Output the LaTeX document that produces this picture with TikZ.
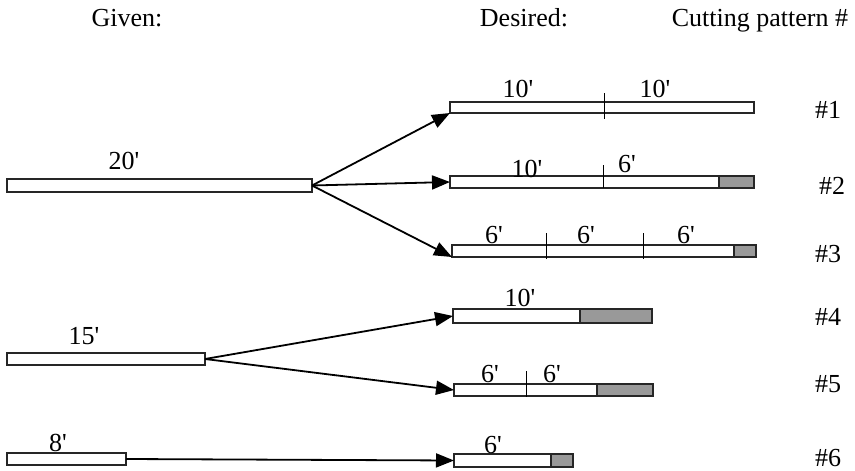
\documentclass[tikz,border=0pt]{standalone}
\usepackage{fontspec}
\setmainfont{Liberation Serif}[Ligatures=TeXOff]
\usetikzlibrary{arrows.meta}
\definecolor{waste}{RGB}{153,153,153}
\begin{document}
\begin{tikzpicture}[x=1pt,y=-1pt,
  bar/.style={draw=black!85,line width=1.2pt,fill=white,rectangle,inner sep=0pt,outer sep=0pt,anchor=north west},
  scrap/.style={draw=black!85,line width=1.2pt,fill=waste,rectangle,inner sep=0pt,outer sep=0pt,anchor=north west},
  lbl/.style={font=\fontsize{26}{29}\selectfont,anchor=base,inner sep=0pt},
  cut/.style={line width=0.9pt,black},
  flow/.style={line width=1.8pt,-{Triangle[length=18pt,width=14pt]}}]
\useasboundingbox (0,0) rectangle (855,471);
% headers
\node[lbl] (hg) at (127,27) {Given:};
\node[lbl] (hd) at (524,27) {Desired:};
\node[lbl] (hc) at (760,27) {Cutting pattern \#};
% given bars
\node[bar,minimum width=305pt,minimum height=13pt] (g20) at (7,179) {};
\node[lbl] (l20) at (124,169) {20'};
\node[bar,minimum width=198pt,minimum height=12pt] (g15) at (7,353) {};
\node[lbl] (l15) at (84,344) {15'};
\node[bar,minimum width=119pt,minimum height=12pt] (g8) at (7,453) {};
\node[lbl] (l8) at (58,451) {8'};
% pattern 1
\node[bar,minimum width=304pt,minimum height=11pt] (p1) at (450,102) {};
\draw[cut] (604,93) -- (604,119);
\node[lbl] (p1a) at (518,97) {10'};
\node[lbl] (p1b) at (655,97) {10'};
\node[lbl] (n1) at (828,118) {\#1};
% pattern 2
\node[bar,minimum width=304pt,minimum height=12pt] (p2) at (450,176) {};
\node[scrap,minimum width=35pt,minimum height=12pt] (s2) at (719,176) {};
\draw[cut] (603,165) -- (603,188);
\node[lbl] (p2a) at (527,177) {10'};
\node[lbl] (p2b) at (627,172) {6'};
\node[lbl] (n2) at (832,194) {\#2};
% pattern 3
\node[bar,minimum width=304pt,minimum height=12pt] (p3) at (452,245) {};
\node[scrap,minimum width=22pt,minimum height=12pt] (s3) at (734,245) {};
\draw[cut] (546,233) -- (546,259);
\draw[cut] (643,233) -- (643,259);
\node[lbl] (p3a) at (494,243) {6'};
\node[lbl] (p3b) at (586,243) {6'};
\node[lbl] (p3c) at (686,243) {6'};
\node[lbl] (n3) at (828,262) {\#3};
% pattern 4
\node[bar,minimum width=199pt,minimum height=14pt] (p4) at (453,309) {};
\node[scrap,minimum width=72pt,minimum height=14pt] (s4) at (580,309) {};
\node[lbl] (p4a) at (520,306) {10'};
\node[lbl] (n4) at (828,325) {\#4};
% pattern 5
\node[bar,minimum width=199pt,minimum height=12pt] (p5) at (454,384) {};
\node[scrap,minimum width=56pt,minimum height=12pt] (s5) at (597,384) {};
\draw[cut] (526,371) -- (526,397);
\node[lbl] (p5a) at (490,382) {6'};
\node[lbl] (p5b) at (552,382) {6'};
\node[lbl] (n5) at (828,392) {\#5};
% pattern 6
\node[bar,minimum width=119pt,minimum height=13pt] (p6) at (454,454) {};
\node[scrap,minimum width=22pt,minimum height=13pt] (s6) at (551,454) {};
\node[lbl] (p6a) at (493,453) {6'};
\node[lbl] (n6) at (828,466) {\#6};
% arrows
\draw[flow] (g20.east) -- (p1.south west);
\draw[flow] (g20.east) -- (p2.west);
\draw[flow] (g20.east) -- (p3.south west);
\draw[flow] (g15.east) -- (p4.west);
\draw[flow] (g15.east) -- (p5.west);
\draw[flow] (g8.east) -- (p6.west);
\end{tikzpicture}
\end{document}
